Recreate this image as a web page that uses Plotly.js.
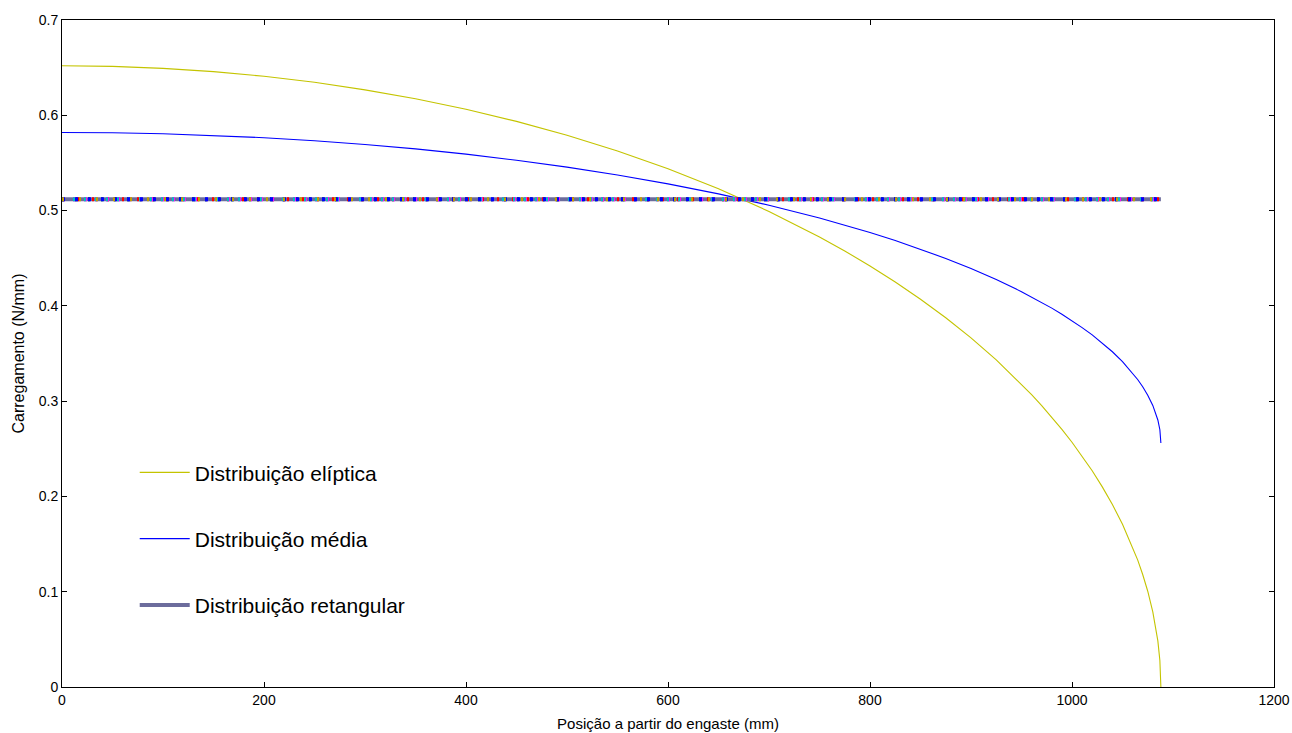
<!DOCTYPE html>
<html>
<head>
<meta charset="utf-8">
<script src="https://cdn.plot.ly/plotly-3.0.1.min.js"></script>
<style>html,body{margin:0;padding:0;background:#fff;}#chart{width:1292px;height:733px;}</style>
</head>
<body>
<div id="chart"></div>
<script>
// Position along the span (mm)
const posicao = [0,50,100,150,200,250,300,350,400,450,500,550,600,650,700,750,775,800,825,850,875,900,925,950,960,970,980,990,1000,1010,1020,1030,1040,1050,1060,1065,1070,1075,1080,1083,1085,1087,1088];
// Elliptical distribution (N/mm)
const eliptica = [0.652,0.6513,0.6492,0.6458,0.6409,0.6346,0.6267,0.6173,0.6063,0.5936,0.5791,0.5626,0.5439,0.5229,0.4991,0.4723,0.4576,0.4419,0.4251,0.4070,0.3875,0.3664,0.3433,0.3178,0.3068,0.2953,0.2832,0.2704,0.2569,0.2424,0.2269,0.2100,0.1915,0.1708,0.1470,0.1334,0.1181,0.1005,0.0789,0.0624,0.0484,0.0279,0.0];
// Mean distribution (N/mm)
const media = [0.582,0.5817,0.5806,0.5789,0.5765,0.5733,0.5694,0.5647,0.5592,0.5528,0.5456,0.5373,0.5280,0.5175,0.5056,0.4922,0.4848,0.4770,0.4686,0.4595,0.4498,0.4392,0.4277,0.4149,0.4094,0.4037,0.3976,0.3912,0.3845,0.3772,0.3695,0.3610,0.3518,0.3414,0.3295,0.3227,0.3151,0.3063,0.2955,0.2872,0.2802,0.2700,0.256];
// Rectangular distribution (N/mm)
const retX = [0,1088];
const retangular = [0.512,0.512];

const names = ['Distribuição elíptica','Distribuição média','Distribuição retangular'];
const xTicks = [0,200,400,600,800,1000,1200];
const yTicks = [0,0.1,0.2,0.3,0.4,0.5,0.6,0.7];
const yTickText = ['0','0.1','0.2','0.3','0.4','0.5','0.6','0.7'];

const overlayColors = ['#008000','#ff0000','#ff00ff','#00bfbf','#0000ff','#c0a000'];
const overlayDash = ['2px,11px','2px,13px','3px,8px','2px,9px','3px,10px','2px,15px'];

const traces = [
  {x: posicao, y: eliptica, type:'scatter', mode:'lines', name: names[0], legendgroup:'e',
   line:{color:'#c4c400', width:1.1}},
  {x: posicao, y: media, type:'scatter', mode:'lines', name: names[1], legendgroup:'m',
   line:{color:'#0000ff', width:1.1}},
  {x: retX, y: retangular, type:'scatter', mode:'lines', name: names[2], legendgroup:'r',
   line:{color:'#6c6c9c', width:4}}
];
overlayColors.forEach((c,i)=>{
  traces.push({x: retX, y: retangular, type:'scatter', mode:'lines', legendgroup:'r', showlegend:false,
    hoverinfo:'skip', line:{color:c, width:4, dash:overlayDash[i]}});
});

const axisCommon = {
  showgrid:false, zeroline:false, showline:true, mirror:'ticks', linecolor:'#000', linewidth:1,
  ticks:'inside', ticklen:5, tickcolor:'#000', tickfont:{family:'Liberation Sans, Arial', size:14, color:'#000'}
};

const layout = {
  width:1292, height:733,
  margin:{l:62, r:18, t:20, b:46},
  paper_bgcolor:'#fff', plot_bgcolor:'#fff',
  font:{family:'Liberation Sans, Arial', color:'#000'},
  xaxis: Object.assign({}, axisCommon, {
    range:[0,1200], tickvals:xTicks, ticktext:xTicks.map(String),
    title:{text:'Posição a partir do engaste (mm)', font:{size:15}, standoff:11}
  }),
  yaxis: Object.assign({}, axisCommon, {
    range:[0,0.7], tickvals:yTicks, ticktext:yTickText,
    title:{text:'Carregamento (N/mm)', font:{size:16}, standoff:10}
  }),
  showlegend:true,
  legend:{x:0.06, y:0.352, xanchor:'left', yanchor:'top', bgcolor:'rgba(0,0,0,0)',
    font:{family:'Liberation Sans, Arial', size:21, color:'#000'}, tracegroupgap:36, itemwidth:50}
};

Plotly.newPlot('chart', traces, layout, {displayModeBar:false, staticPlot:true});
</script>
</body>
</html>
